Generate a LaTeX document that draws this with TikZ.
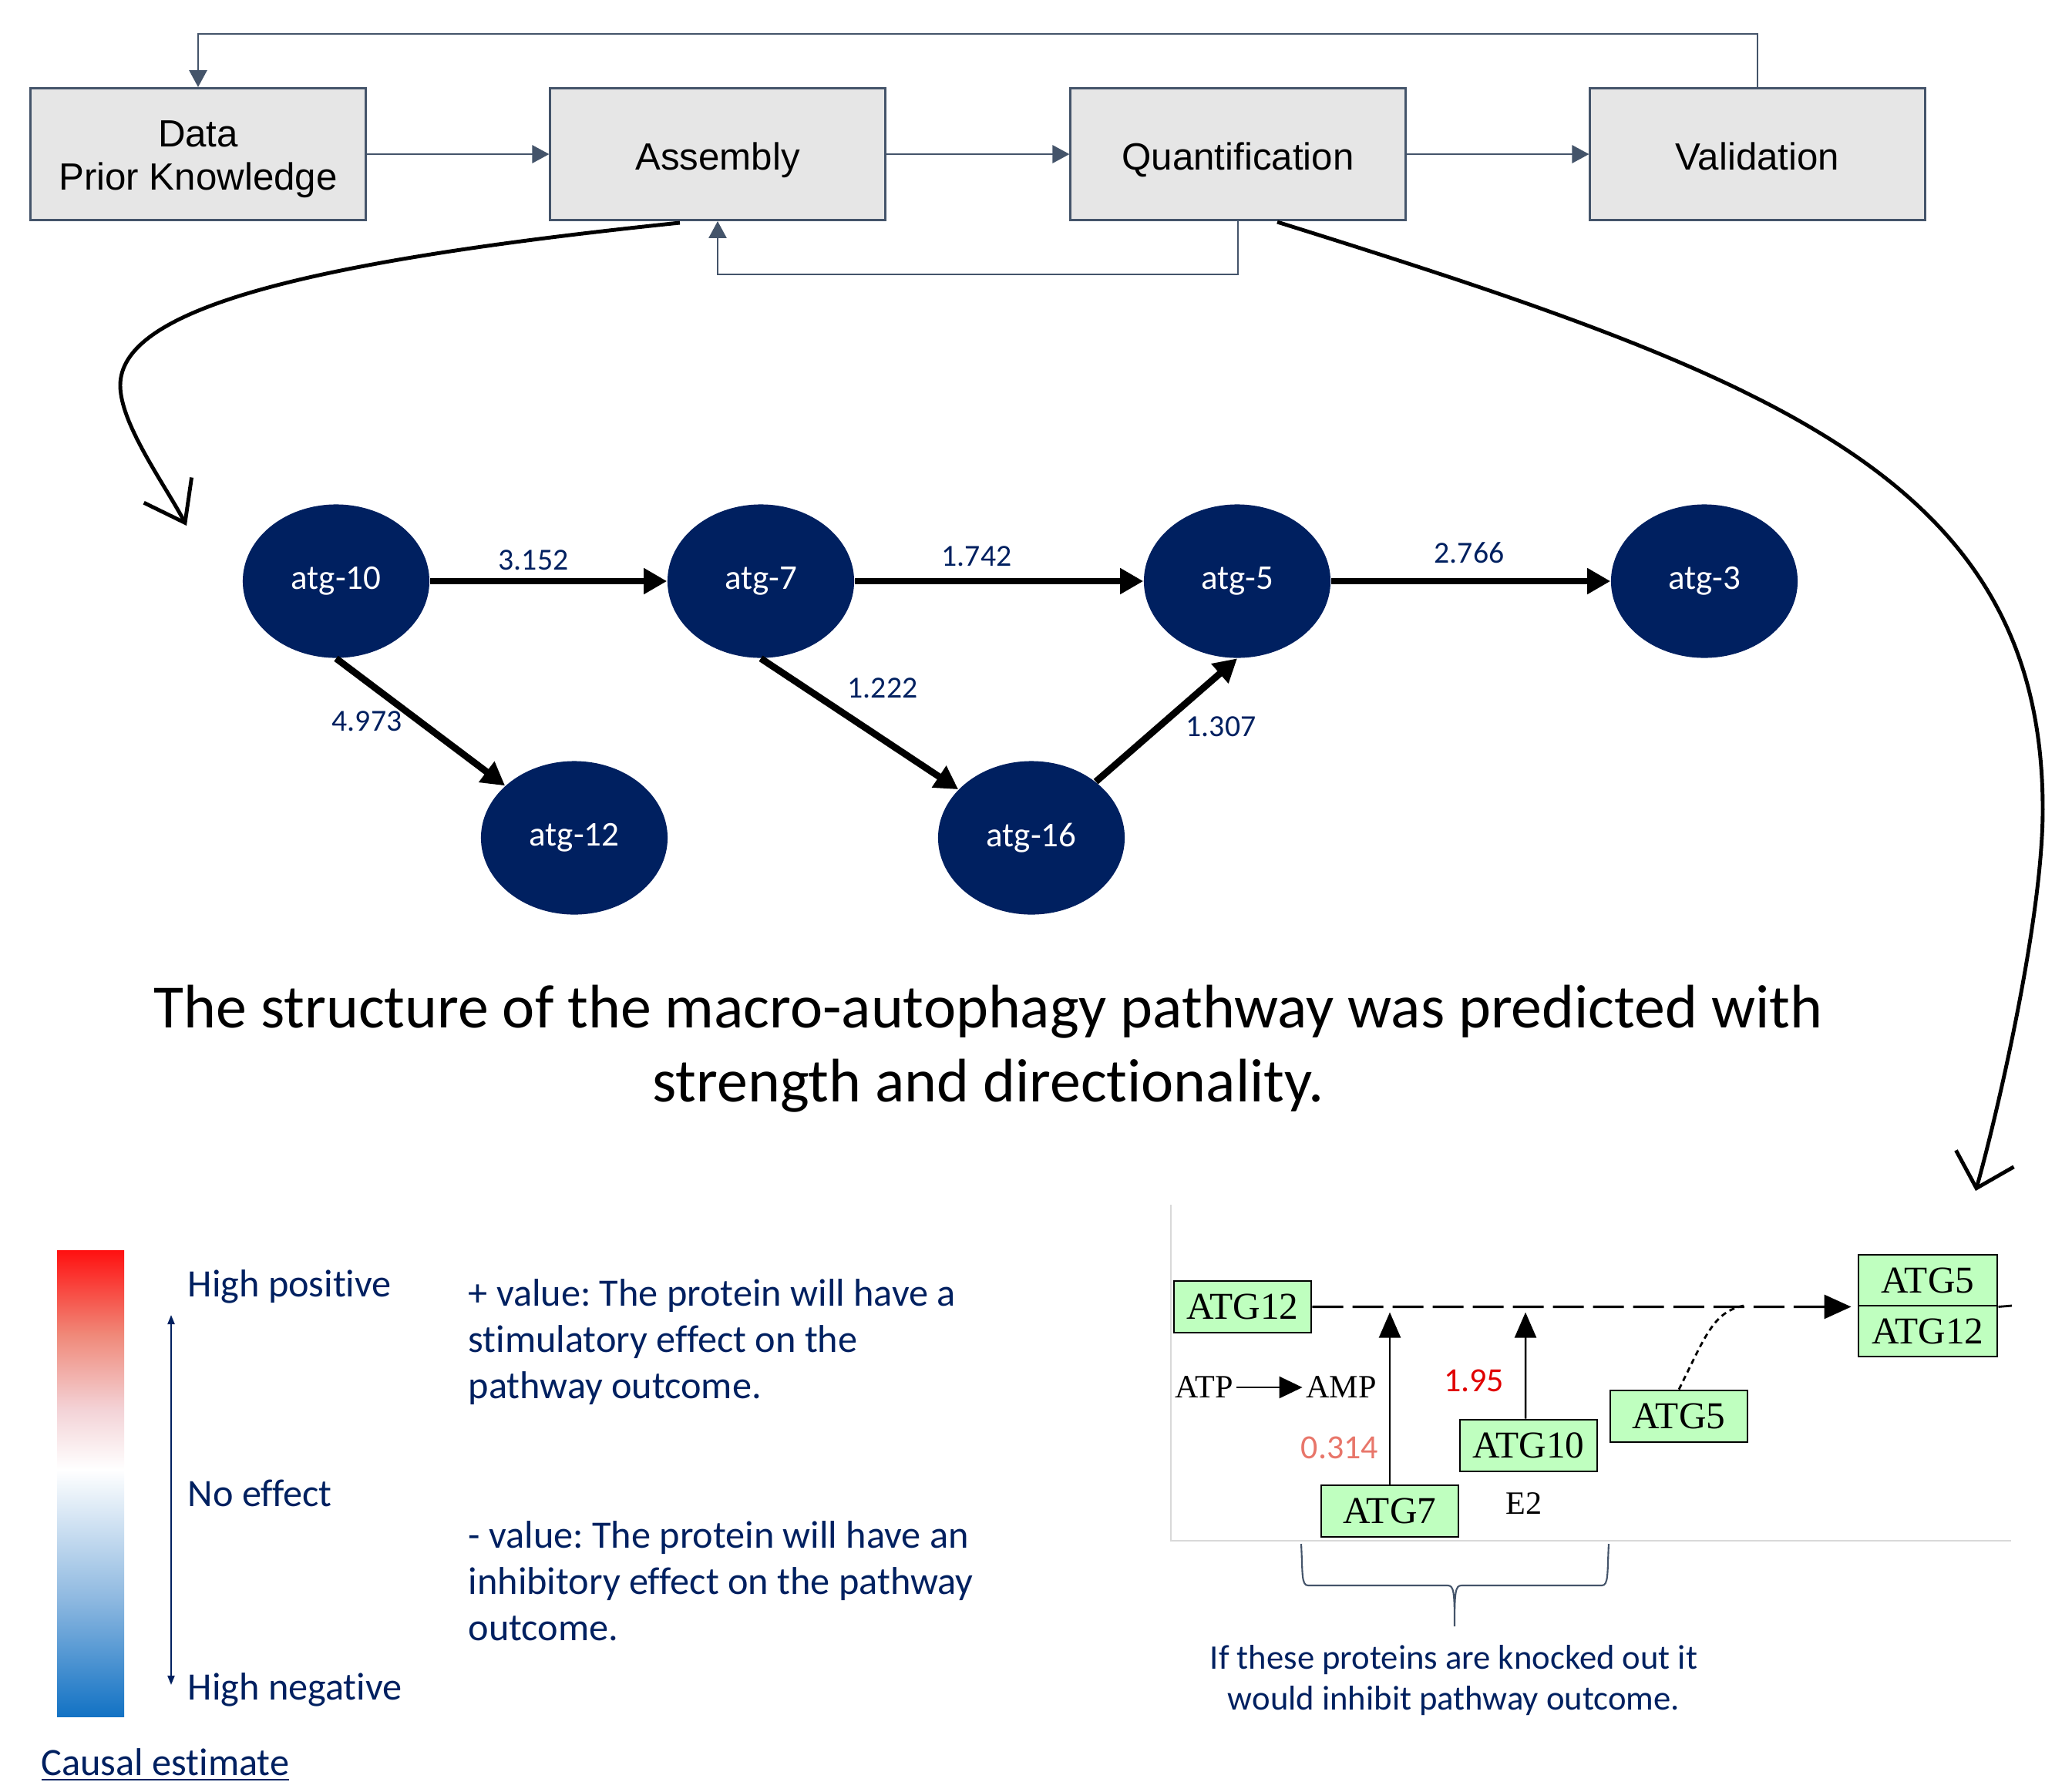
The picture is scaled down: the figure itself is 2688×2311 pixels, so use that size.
\documentclass[tikz,border=0pt]{standalone}
\usepackage{fontspec}
\setmainfont{Carlito}[Ligatures=NoCommon]
\newfontfamily\arialf{Liberation Sans}
\newfontfamily\timesf{Liberation Serif}
\usetikzlibrary{arrows.meta,shapes.geometric,calc}
\definecolor{boxline}{HTML}{44546A}
\definecolor{boxfill}{HTML}{E6E6E6}
\definecolor{navy}{HTML}{002060}
\definecolor{kgreen}{HTML}{BFFFBF}
\definecolor{salmon}{HTML}{E8766A}
\definecolor{kred}{HTML}{E00000}
\definecolor{framegray}{HTML}{D9D9D9}
\definecolor{cbA}{HTML}{1272C4}
\definecolor{cbB}{HTML}{8DB8E0}
\definecolor{cbC}{HTML}{F3D2D6}
\definecolor{cbD}{HTML}{F08878}
\definecolor{cbE}{HTML}{FF1010}
\pgfdeclareverticalshading{causal}{100bp}{color(0bp)=(cbA); color(25bp)=(cbA); color(37.5bp)=(cbB); color(51.5bp)=(white); color(58bp)=(cbC); color(66bp)=(cbD); color(75bp)=(cbE); color(100bp)=(cbE)}
\tikzset{
  topbox/.style={draw=boxline, fill=boxfill, line width=0.8pt, minimum width=4.34cm, minimum height=1.71cm,
    font=\arialf\fontsize{14}{15.9}\selectfont, inner sep=0pt, text height=14.4pt, text depth=3pt},
  flow/.style={draw=boxline, line width=0.8pt, -{Triangle[length=0.22cm,width=0.23cm]}},
  gnode/.style={ellipse, fill=navy, text=white, minimum width=2.42cm, minimum height=1.99cm, inner sep=0pt,
    font=\fontsize{12.8}{15}\selectfont},
  gedge/.style={line width=2.5pt, -{Triangle[length=0.3cm,width=0.32cm]}},
  wlabel/.style={text=navy, font=\fontsize{11.3}{13}\selectfont, inner sep=0pt},
  bigcurve/.style={line width=1.4pt},
  kbox/.style={draw=black, fill=kgreen, line width=0.8pt, minimum width=1.78cm, minimum height=0.67cm,
    inner sep=0pt, font=\timesf\fontsize{14}{15}\selectfont},
  ktext/.style={font=\timesf\fontsize{12}{13}\selectfont, inner sep=0.04cm},
  legtext/.style={text=navy, font=\fontsize{14.3}{17}\selectfont, inner sep=0pt, anchor=west},
  desc/.style={text=navy, font=\fontsize{14.3}{17}\selectfont\frenchspacing, inner sep=0pt, anchor=west, align=left},
}
\begin{document}
\begin{tikzpicture}[x=0.01cm,y=-0.01cm]
\useasboundingbox (0,0) rectangle (2688,2311);

% top workflow
\node[topbox] (data) at (257,200) {\begin{tabular}{@{}c@{}}Data\\Prior Knowledge\end{tabular}};
\node[topbox] (assem) at (931,200) {Assembly};
\node[topbox] (quant) at (1606,200) {Quantification};
\node[topbox] (valid) at (2280,200) {Validation};
\draw[flow] (data) -- (assem);
\draw[flow] (assem) -- (quant);
\draw[flow] (quant) -- (valid);
\coordinate (topy) at (0,44);
\coordinate (boty) at (0,356);
\draw[flow] (valid.north) -- (valid.north |- topy) -- (data.north |- topy) -- (data.north);
\draw[flow] (quant.south) -- (quant.south |- boty) -- (assem.south |- boty) -- (assem.south);

% big curved arrows
\coordinate (c1s) at (882,289);
\coordinate (c1m) at (156,500);
\coordinate (c1e) at (242,682);
\draw[bigcurve, -{Straight Barb[length=0.48cm,width=0.7cm]}] (c1s) .. controls (400,339) and (156,400) .. (c1m)
   .. controls (156,550) and (214,629) .. (c1e);
\coordinate (c2s) at (1657,288);
\coordinate (c2m) at (2650,1050);
\coordinate (c2e) at (2563,1545);
\draw[bigcurve, -{Straight Barb[length=0.4cm,width=0.78cm]}] (c2s) .. controls (2300,489) and (2650,620) .. (c2m)
   .. controls (2650,1200) and (2585,1468) .. (c2e);

% graph
\node[gnode] (a10) at (436,754) {atg-10};
\node[gnode] (a7) at (987,754) {atg-7};
\node[gnode] (a5) at (1605,754) {atg-5};
\node[gnode] (a3) at (2211,754) {atg-3};
\node[gnode] (a12) at (745,1087) {atg-12};
\node[gnode] (a16) at (1338,1087) {atg-16};
\draw[gedge] (a10) -- (a7);
\draw[gedge] (a7) -- (a5);
\draw[gedge] (a5) -- (a3);
\draw[gedge] (a10.south) -- (a12);
\draw[gedge] (a7.south) -- (a16);
\draw[gedge] (a16) -- (a5.south);
\node[wlabel] (l1) at (692,727) {3.152};
\node[wlabel] (l2) at (1267,722) {1.742};
\node[wlabel] (l3) at (1906,717) {2.766};
\node[wlabel] (l4) at (476,936) {4.973};
\node[wlabel] (l5) at (1145,893) {1.222};
\node[wlabel] (l6) at (1584,943) {1.307};

% caption
\node[font=\fontsize{22.7}{27.3}\selectfont, align=center, inner sep=0pt] (cap) at (1282,1361)
  {The structure of the macro-autophagy pathway was predicted with\\strength and directionality.};

% colour bar legend
\shade[shading=causal] (74,1622) rectangle (161,2227);
\coordinate (axtop) at (222,1706);
\coordinate (axbot) at (222,2186);
\draw[navy, line width=0.6pt, {Triangle[length=0.12cm,width=0.09cm]}-{Triangle[length=0.12cm,width=0.09cm]}] (axtop) -- (axbot);
\node[legtext] (hp) at (243,1669) {High positive};
\node[legtext] (ne) at (243,1937) {No effect};
\node[legtext] (hn) at (243,2192) {High negative};
\node[legtext] (ce) at (53,2290) {\underline{Causal estimate}};
\node[desc] (pv) at (607,1741) {+ value: The protein will have a\\stimulatory effect on the\\pathway outcome.};
\node[desc] (mv) at (607,2051) {- value: The protein will have an\\inhibitory effect on the pathway\\outcome.};

% KEGG excerpt
\draw[framegray, line width=0.6pt] (1519,1563) -- (1519,1999) -- (2609,1999);
\node[kbox] (k12) at (1612,1695.5) {ATG12};
\node[kbox] (k7) at (1803,1960.5) {ATG7};
\node[kbox] (k10) at (1983,1875.5) {ATG10};
\node[kbox] (k5) at (2178,1837.5) {ATG5};
\node[kbox, minimum width=1.80cm, minimum height=0.66cm] (kc5) at (2501,1661) {ATG5};
\node[kbox, minimum width=1.80cm, minimum height=0.66cm] (kc12) at (2501,1727) {ATG12};
\coordinate (kend) at (2610,1694);
\draw[line width=0.8pt] (kc5.south east) -- (kend);
\draw[line width=0.9pt, dash pattern=on 0.4cm off 0.12cm, -{Triangle[length=0.35cm,width=0.31cm]}, shorten >=0.08cm]
  (k12.east) -- (kc5.south west);
\draw[line width=0.7pt, -{Triangle[length=0.33cm,width=0.28cm]}] (k7.north) -- ($(k7.north)+(0,-223)$);
\draw[line width=0.7pt, -{Triangle[length=0.33cm,width=0.28cm]}] ([xshift=-0.04cm]k10.north) -- ($(k10.north)+(-4,-138)$);
\draw[line width=0.8pt, dash pattern=on 2pt off 1.5pt] (k5.north) .. controls (2212,1735) and (2222,1702) .. (2262,1694);
\node[ktext] (atp) at (1562,1800) {ATP};
\node[ktext] (amp) at (1740,1800) {AMP};
\draw[line width=0.8pt, -{Triangle[length=0.3cm,width=0.28cm]}] (atp) -- (amp);
\node[ktext] (e2) at (1977,1950) {E2};
\node[text=kred, font=\fontsize{12.5}{14}\selectfont, inner sep=0pt] (v195) at (1912,1791) {1.95};
\node[text=salmon, font=\fontsize{12.5}{14}\selectfont, inner sep=0pt] (v314) at (1738,1878) {0.314};

% brace
\draw[boxline, line width=0.6pt] (1688,2003) .. controls (1690,2040) and (1688,2057) .. (1697,2057) -- (1878,2057)
  .. controls (1886,2057) and (1887,2065) .. (1887,2110)
  .. controls (1887,2065) and (1888,2057) .. (1896,2057) -- (2078,2057)
  .. controls (2087,2057) and (2085,2040) .. (2087,2003);
\node[text=navy, font=\fontsize{12.7}{15}\selectfont, align=center, inner sep=0pt] (ko) at (1886,2180)
  {If these proteins are knocked out it\\would inhibit pathway outcome.};
\end{tikzpicture}
\end{document}
